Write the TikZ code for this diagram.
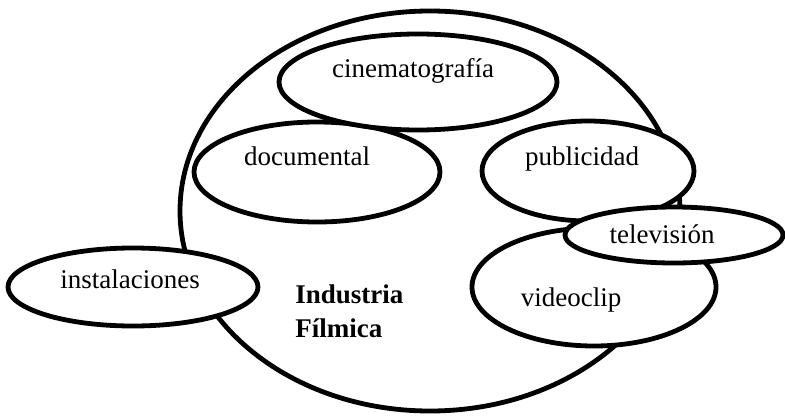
\documentclass[tikz,border=0pt]{standalone}
\usepackage{fontspec}
\setmainfont{Liberation Serif}
\usetikzlibrary{shapes.geometric}

\begin{document}
\begin{tikzpicture}[
			x=0.5pt, y=-0.5pt,
			blob/.style={draw, ellipse, line width=2.4pt, fill=white, inner sep=0pt},
			word/.style={inner sep=0pt, anchor=base, font=\fontsize{13.5}{17}\selectfont},
			title/.style={inner sep=0pt, anchor=base west, align=left, font=\fontsize{13.5}{17}\selectfont\bfseries},
		]
			\useasboundingbox (0,0) rectangle (785,417);

			\node[blob, fill=none, minimum width=250pt, minimum height=200pt] (industria) at (430,211) {};

			\node[blob, minimum width=125pt, minimum height=39pt] (instalaciones) at (133,287) {};
			\node[blob, minimum width=123pt, minimum height=50pt] (documental) at (317,172) {};
			\node[blob, minimum width=139pt, minimum height=48pt] (cine) at (418,82) {};
			\node[blob, minimum width=106pt, minimum height=50pt] (publicidad) at (588,171) {};
			\node[blob, minimum width=122pt, minimum height=59pt] (videoclip) at (594,287) {};
			\node[blob, minimum width=109pt, minimum height=28pt] (television) at (674,235) {};

			\node[word] (t-cine) at (413,77) {cinematografía};
			\node[word] (t-doc) at (307,165) {documental};
			\node[word] (t-pub) at (582,165) {publicidad};
			\node[word] (t-tv) at (662,243) {televisión};
			\node[word] (t-video) at (571,306) {videoclip};
			\node[word] (t-inst) at (130,288) {instalaciones};
			\node[title] (t-ind) at (295,337) {Industria\\Fílmica};
		\end{tikzpicture}
\end{document}
